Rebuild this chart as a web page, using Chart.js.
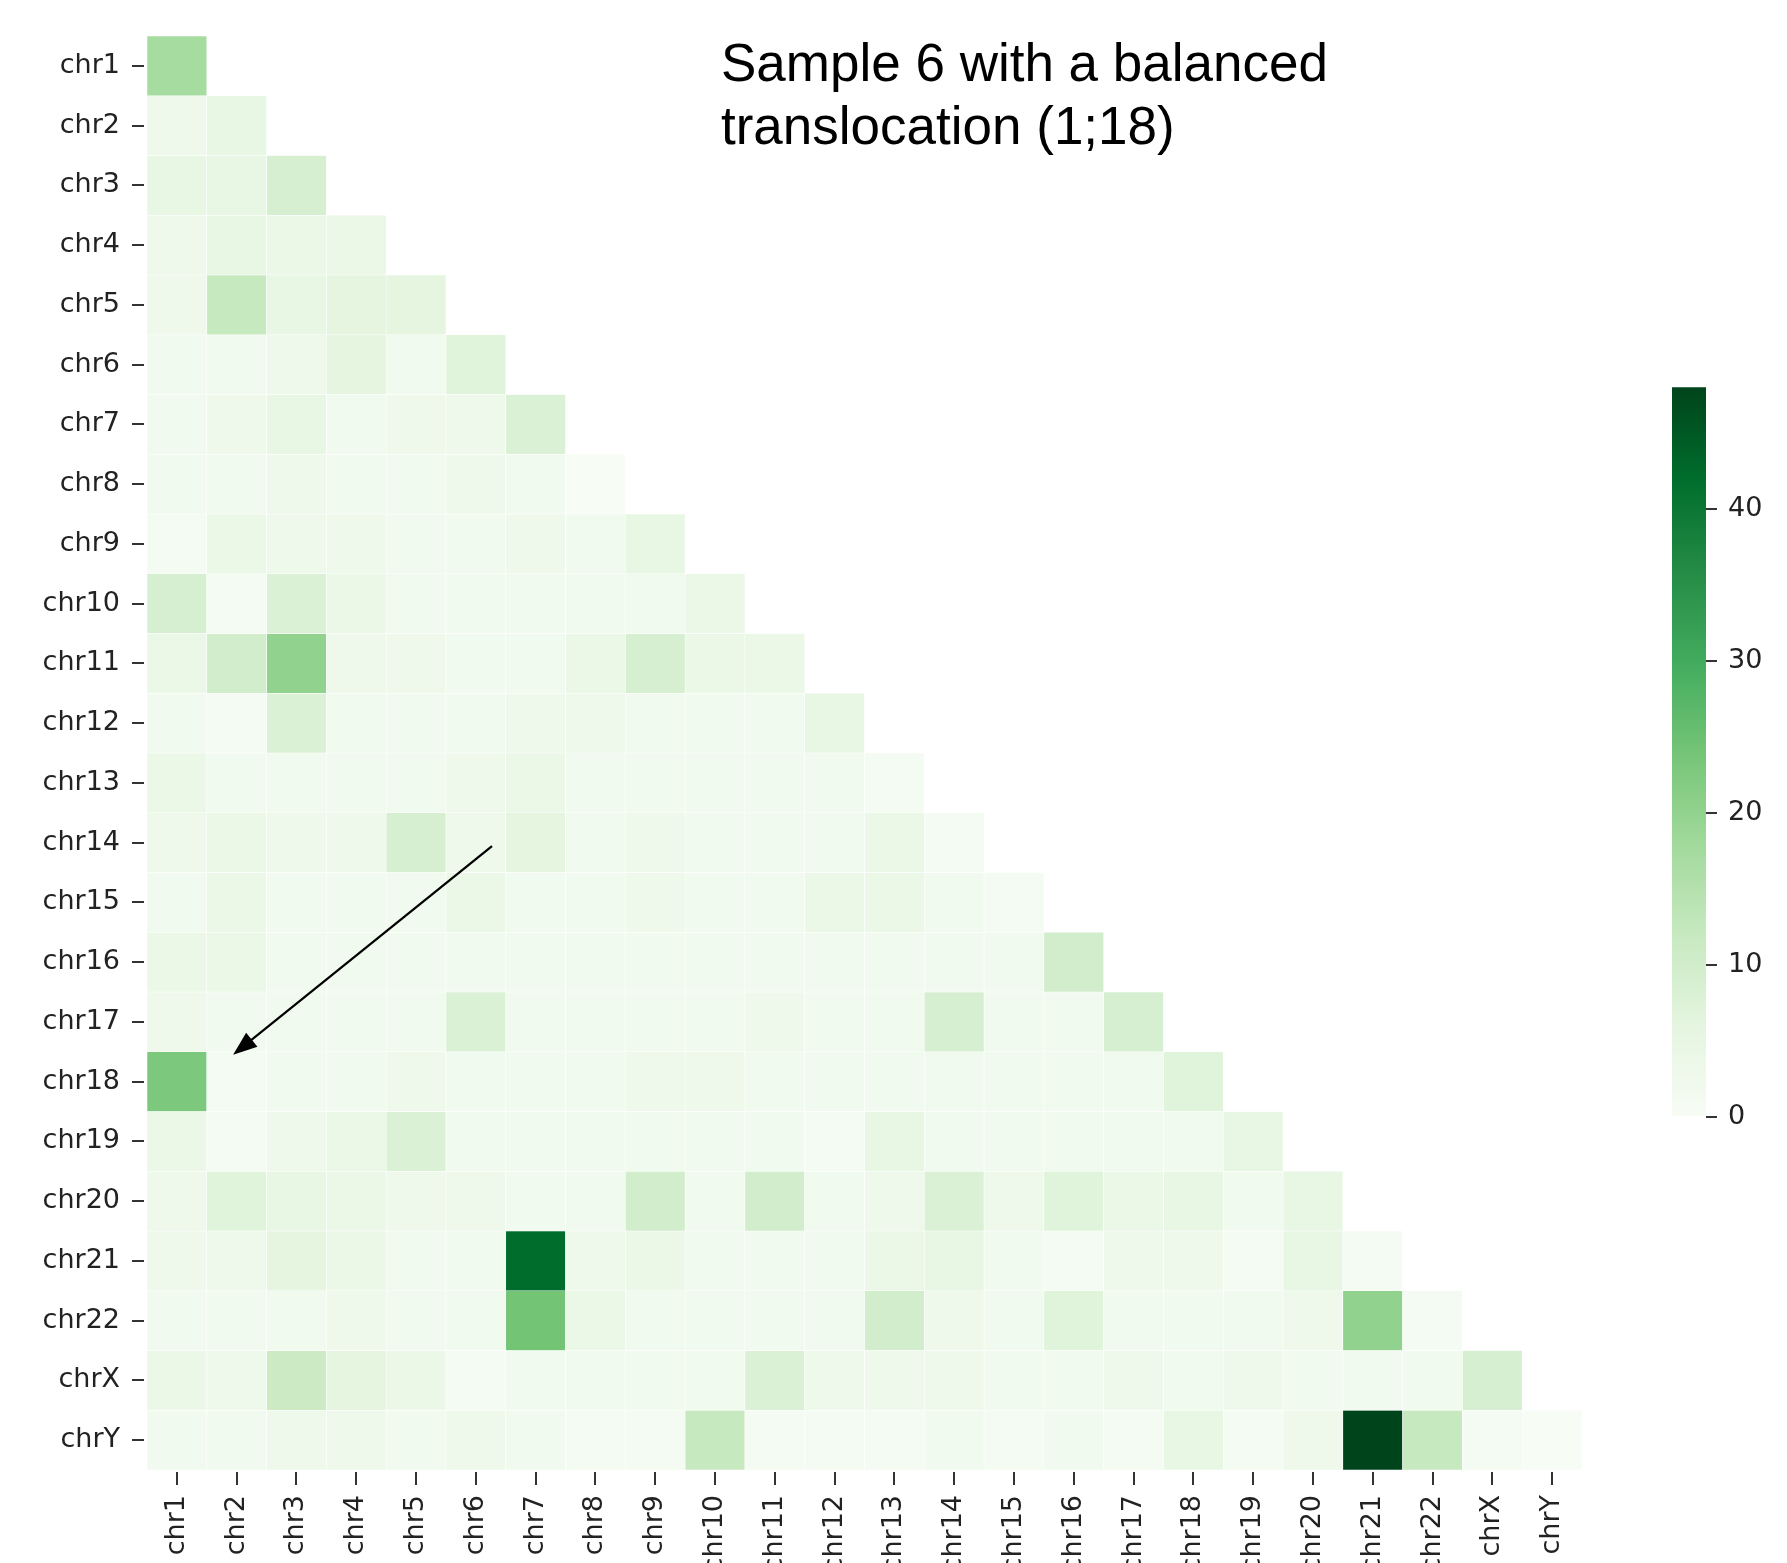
<!DOCTYPE html>
<html>
<head>
<meta charset="utf-8">
<script src="https://cdn.jsdelivr.net/npm/chart.js@4.4.1/dist/chart.umd.min.js"></script>
<style>
  html, body { margin: 0; padding: 0; background: #fff; overflow: hidden; width: 1787px; height: 1563px; }
  #heat { position: absolute; left: 0; top: 0; }
  #cbar { position: absolute; left: 1672px; top: 360px; }
  #title { position: absolute; left: 721px; top: 31px; font-family: "Liberation Sans", Arial, sans-serif;
           font-size: 53px; line-height: 63px; color: #000; white-space: nowrap; }
</style>
</head>
<body>
<canvas id="heat" width="1787" height="1600"></canvas>
<canvas id="cbar" width="115" height="784"></canvas>
<div id="title">Sample 6 with a balanced<br>translocation (1;18)</div>
<script>
// chromosome labels, used for both axes
var chroms = ['chr1', 'chr2', 'chr3', 'chr4', 'chr5', 'chr6', 'chr7', 'chr8', 'chr9', 'chr10',
  'chr11', 'chr12', 'chr13', 'chr14', 'chr15', 'chr16', 'chr17', 'chr18', 'chr19', 'chr20',
  'chr21', 'chr22', 'chrX', 'chrY'];

// lower triangle of the matrix, one row per chromosome (row i has i+1 values)
var counts = [
  [17],
  [3, 5],
  [5, 5, 9],
  [3, 5, 4, 4],
  [3, 12, 5, 6, 6],
  [2, 2, 3, 6, 2, 7],
  [2, 3, 5, 2, 3, 3, 8],
  [2, 2, 3, 2, 2, 3, 2, 0],
  [1, 4, 3, 3, 2, 2, 3, 2, 5],
  [9, 1, 8, 4, 2, 2, 2, 2, 2, 4],
  [4, 10, 20, 3, 3, 2, 2, 4, 9, 4, 4],
  [2, 1, 8, 2, 2, 2, 3, 3, 2, 2, 2, 5],
  [4, 2, 2, 2, 2, 3, 4, 2, 2, 2, 2, 2, 1],
  [3, 4, 3, 3, 9, 3, 6, 2, 3, 2, 2, 2, 4, 1],
  [2, 4, 2, 2, 2, 4, 2, 2, 3, 2, 2, 4, 4, 2, 1],
  [4, 4, 2, 2, 2, 2, 2, 2, 2, 2, 2, 2, 2, 2, 2, 10],
  [3, 2, 2, 2, 2, 8, 2, 2, 2, 2, 3, 2, 2, 9, 2, 2, 9],
  [23, 1, 2, 2, 3, 2, 2, 2, 3, 3, 2, 2, 2, 2, 2, 2, 2, 7],
  [4, 1, 3, 4, 8, 2, 2, 2, 2, 2, 2, 1, 5, 2, 2, 2, 2, 2, 5],
  [3, 7, 5, 4, 3, 3, 2, 2, 10, 2, 10, 2, 3, 8, 3, 7, 4, 5, 2, 5],
  [3, 3, 6, 4, 2, 2, 42, 3, 4, 2, 2, 2, 4, 5, 2, 1, 3, 3, 1, 5, 1],
  [2, 2, 2, 3, 2, 2, 24, 4, 2, 2, 2, 2, 10, 3, 2, 7, 2, 2, 2, 3, 20, 1],
  [4, 3, 11, 6, 4, 1, 2, 2, 2, 2, 8, 3, 3, 3, 2, 2, 3, 2, 3, 2, 2, 2, 9],
  [2, 2, 3, 3, 2, 3, 2, 1, 1, 12, 1, 1, 1, 2, 1, 2, 1, 5, 1, 3, 48, 12, 1, 0]
];

var colorbarTicks = [0, 10, 20, 30, 40];
var vmin = 0;
var vmax = 48;

// matplotlib "Greens"
var greens = ['#f7fcf5', '#e5f5e0', '#c7e9c0', '#a1d99b', '#74c476', '#41ab5d', '#238b45', '#006d2c', '#00441b'];

function hexToRgb(h) {
  return [parseInt(h.slice(1, 3), 16), parseInt(h.slice(3, 5), 16), parseInt(h.slice(5, 7), 16)];
}

function greenFor(v) {
  var t = Math.max(0, Math.min(1, (v - vmin) / (vmax - vmin))) * (greens.length - 1);
  var k = Math.min(Math.floor(t), greens.length - 2);
  var f = t - k;
  var a = hexToRgb(greens[k]), b = hexToRgb(greens[k + 1]);
  var c = a.map(function (x, n) { return Math.round(x + (b[n] - x) * f); });
  return 'rgb(' + c.join(',') + ')';
}

// one floating-bar dataset per row, bars span [row, row+1] on the y scale
var datasets = counts.map(function (row, i) {
  return {
    label: chroms[i],
    data: chroms.map(function (c, j) { return j < row.length ? [i, i + 1] : null; }),
    backgroundColor: chroms.map(function (c, j) { return j < row.length ? greenFor(row[j]) : 'rgba(0,0,0,0)'; }),
    borderColor: '#ffffff',
    borderWidth: 0.6,
    borderSkipped: false,
    grouped: false,
    barPercentage: 1,
    categoryPercentage: 1
  };
});

var tickFont = { family: 'DejaVu Sans', size: 27 };

// the arrow pointing at the chr1/chr18 cell (in cell units)
var arrowPlugin = {
  id: 'arrow',
  afterDatasetsDraw: function (chart) {
    var ctx = chart.ctx, xs = chart.scales.x, ys = chart.scales.y;
    var cw = (xs.right - xs.left) / chroms.length;
    var x0 = xs.left + 5.77 * cw, y0 = ys.getPixelForValue(13.56);
    var x1 = xs.left + 1.44 * cw, y1 = ys.getPixelForValue(17.05);
    var ang = Math.atan2(y1 - y0, x1 - x0);
    var hl = 24, hw = 9;
    ctx.save();
    ctx.strokeStyle = '#000';
    ctx.fillStyle = '#000';
    ctx.lineWidth = 2.2;
    ctx.beginPath();
    ctx.moveTo(x0, y0);
    ctx.lineTo(x1 - Math.cos(ang) * hl * 0.8, y1 - Math.sin(ang) * hl * 0.8);
    ctx.stroke();
    ctx.beginPath();
    ctx.moveTo(x1, y1);
    ctx.lineTo(x1 - Math.cos(ang) * hl - Math.sin(ang) * hw, y1 - Math.sin(ang) * hl + Math.cos(ang) * hw);
    ctx.lineTo(x1 - Math.cos(ang) * hl + Math.sin(ang) * hw, y1 - Math.sin(ang) * hl - Math.cos(ang) * hw);
    ctx.closePath();
    ctx.fill();
    ctx.restore();
  }
};

new Chart(document.getElementById('heat'), {
  type: 'bar',
  data: { labels: chroms, datasets: datasets },
  plugins: [arrowPlugin],
  options: {
    responsive: false,
    animation: false,
    layout: { padding: { top: 36, right: 205, left: 0, bottom: 0 } },
    plugins: { legend: { display: false }, tooltip: { enabled: false } },
    scales: {
      x: {
        type: 'category',
        offset: true,
        grid: {
          offset: false, drawOnChartArea: false, tickLength: 15, color: '#333', lineWidth: 2,
          tickBorderDash: [0, 2, 13, 20]
        },
        border: { display: false },
        ticks: { font: tickFont, color: '#222', minRotation: 90, maxRotation: 90, autoSkip: false, padding: 10 },
        afterFit: function (s) { s.height = 130; }
      },
      y: {
        type: 'linear',
        min: 0,
        max: chroms.length,
        reverse: true,
        afterBuildTicks: function (s) {
          s.ticks = chroms.map(function (c, i) { return { value: i + 0.5 }; });
        },
        grid: {
          drawOnChartArea: false, tickLength: 15, color: '#333', lineWidth: 2,
          tickBorderDash: [12, 20]
        },
        border: { display: false },
        ticks: {
          font: tickFont, color: '#222', autoSkip: false, padding: 12,
          callback: function (v, idx) { return chroms[idx]; }
        },
        afterFit: function (s) { s.width = 147; }
      }
    }
  }
});

// colorbar
new Chart(document.getElementById('cbar'), {
  type: 'bar',
  data: {
    labels: [''],
    datasets: [{
      data: [[vmin, vmax]],
      backgroundColor: function (c) {
        var a = c.chart.chartArea;
        if (!a) return greens[0];
        var g = c.chart.ctx.createLinearGradient(0, a.bottom, 0, a.top);
        greens.forEach(function (col, k) { g.addColorStop(k / (greens.length - 1), col); });
        return g;
      },
      borderWidth: 0,
      barPercentage: 1,
      categoryPercentage: 1
    }]
  },
  options: {
    responsive: false,
    animation: false,
    layout: { padding: 0 },
    plugins: { legend: { display: false }, tooltip: { enabled: false } },
    scales: {
      x: { display: false },
      y: {
        position: 'right',
        min: vmin,
        max: vmax,
        afterBuildTicks: function (s) {
          s.ticks = colorbarTicks.map(function (v) { return { value: v }; });
        },
        grid: { drawOnChartArea: false, tickLength: 11, color: '#333', lineWidth: 2 },
        border: { display: false },
        ticks: { font: tickFont, color: '#222', padding: 11 },
        afterFit: function (s) { s.width = 81; }
      }
    }
  }
});
</script>
</body>
</html>
